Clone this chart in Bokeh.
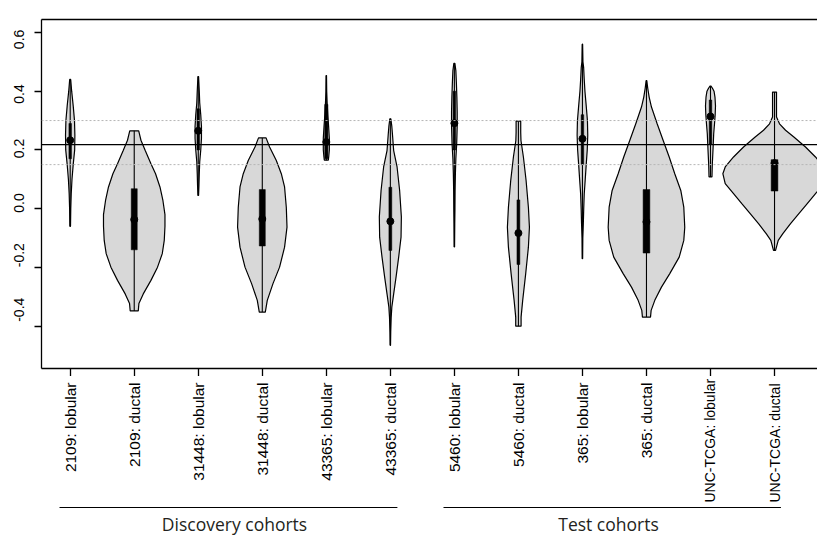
import math
from bokeh.plotting import figure
from bokeh.models import Range1d, FixedTicker, LinearAxis, Span
from bokeh.layouts import column, row
from bokeh.embed import file_html
from bokeh.resources import INLINE
from bokeh.core.properties import value

# ---------------- data ----------------
categories = ["2109: lobular", "2109: ductal", "31448: lobular", "31448: ductal",
              "43365: lobular", "43365: ductal", "5460: lobular", "5460: ductal",
              "365: lobular", "365: ductal", "UNC-TCGA: lobular", "UNC-TCGA: ductal"]
groups = ["Discovery cohorts", "Test cohorts"]

# violin outlines: y levels (top -> bottom) and half-widths (x-axis units)
v01_y = [0.44, 0.40, 0.35, 0.30, 0.25, 0.20, 0.15, 0.10, 0.05, 0.00, -0.06]
v01_w = [0.008, 0.023, 0.047, 0.067, 0.073, 0.070, 0.047, 0.028, 0.016, 0.009, 0.005]
v02_y = [0.265, 0.233, 0.198, 0.153, 0.119, 0.074, 0.028, -0.02, -0.06, -0.108, -0.153, -0.199, -0.244, -0.29, -0.323, -0.348]
v02_w = [0.070, 0.105, 0.172, 0.261, 0.333, 0.402, 0.448, 0.480, 0.480, 0.469, 0.438, 0.364, 0.261, 0.141, 0.073, 0.063]
v03_y = [0.45, 0.40, 0.36, 0.32, 0.28, 0.24, 0.20, 0.16, 0.12, 0.08, 0.045]
v03_w = [0.005, 0.016, 0.023, 0.039, 0.050, 0.050, 0.039, 0.023, 0.016, 0.011, 0.005]
v04_y = [0.241, 0.21, 0.164, 0.119, 0.074, 0.005, -0.063, -0.131, -0.199, -0.255, -0.312, -0.352]
v04_w = [0.059, 0.114, 0.219, 0.297, 0.348, 0.375, 0.386, 0.348, 0.270, 0.167, 0.078, 0.047]
v05_y = [0.453, 0.40, 0.36, 0.32, 0.28, 0.24, 0.20, 0.18, 0.165]
v05_w = [0.003, 0.006, 0.013, 0.023, 0.036, 0.047, 0.047, 0.039, 0.031]
v06_y = [0.306, 0.28, 0.25, 0.198, 0.142, 0.062, -0.028, -0.097, -0.165, -0.233, -0.29, -0.335, -0.37, -0.42, -0.465]
v06_w = [0.008, 0.023, 0.034, 0.052, 0.105, 0.145, 0.172, 0.167, 0.130, 0.089, 0.052, 0.023, 0.013, 0.006, 0.003]
v07_y = [0.495, 0.47, 0.43, 0.38, 0.33, 0.28, 0.22, 0.17, 0.12, 0.06, 0.00, -0.05, -0.13]
v07_w = [0.008, 0.023, 0.031, 0.039, 0.044, 0.044, 0.036, 0.023, 0.016, 0.011, 0.009, 0.006, 0.003]
v08_y = [0.298, 0.26, 0.232, 0.176, 0.096, 0.005, -0.063, -0.131, -0.221, -0.312, -0.369, -0.40]
v08_w = [0.036, 0.036, 0.040, 0.078, 0.120, 0.156, 0.172, 0.156, 0.114, 0.067, 0.042, 0.042]
v09_y = [0.56, 0.50, 0.48, 0.44, 0.40, 0.35, 0.30, 0.25, 0.20, 0.15, 0.10, 0.05, 0.00, -0.05, -0.10, -0.17]
v09_w = [0.003, 0.008, 0.019, 0.028, 0.039, 0.059, 0.078, 0.083, 0.075, 0.059, 0.044, 0.028, 0.020, 0.014, 0.006, 0.003]
v10_y = [0.436, 0.41, 0.38, 0.346, 0.289, 0.232, 0.176, 0.119, 0.062, 0.005, -0.063, -0.108, -0.165, -0.221, -0.267, -0.312, -0.346, -0.369]
v10_w = [0.005, 0.020, 0.042, 0.078, 0.167, 0.261, 0.355, 0.442, 0.536, 0.583, 0.598, 0.583, 0.511, 0.364, 0.234, 0.130, 0.073, 0.063]
v11_y = [0.417, 0.41, 0.40, 0.38, 0.35, 0.32, 0.29, 0.255, 0.20, 0.15, 0.108]
v11_w = [0.008, 0.031, 0.055, 0.070, 0.078, 0.073, 0.063, 0.050, 0.039, 0.028, 0.023]
v12_y = [0.397, 0.312, 0.289, 0.267, 0.244, 0.21, 0.176, 0.142, 0.119, 0.085, 0.051, 0.017, -0.017, -0.051, -0.085, -0.108, -0.142]
v12_w = [0.031, 0.031, 0.078, 0.172, 0.302, 0.484, 0.640, 0.770, 0.807, 0.770, 0.640, 0.511, 0.380, 0.250, 0.130, 0.058, 0.016]

medians = [0.233, -0.037, 0.265, -0.035, 0.227, -0.043, 0.291, -0.083, 0.238, -0.045, 0.314, 0.155]
q1 = [0.17, -0.14, 0.20, -0.127, 0.17, -0.142, 0.20, -0.19, 0.15, -0.151, 0.22, 0.06]
q3 = [0.29, 0.068, 0.34, 0.065, 0.355, 0.073, 0.40, 0.03, 0.32, 0.065, 0.37, 0.167]

y_ticks = [-0.4, -0.2, 0.0, 0.2, 0.4, 0.6]
y_tick_labels = ["-0.4", "-0.2", "0.0", "0.2", "0.4", "0.6"]
ref_line = 0.218
ref_band = [0.15, 0.30]

# ---------------- styles / layout ----------------
box_w = [0.04, 0.094, 0.04, 0.094, 0.05, 0.045, 0.04, 0.045, 0.04, 0.105, 0.04, 0.105]
group_x0 = [0.833, 6.83]
group_x1 = [6.11, 12.1]
group_text_x = [3.566, 9.407]
FONT = "Liberation Sans"

profiles_y = [v01_y, v02_y, v03_y, v04_y, v05_y, v06_y, v07_y, v08_y, v09_y, v10_y, v11_y, v12_y]
profiles_w = [v01_w, v02_w, v03_w, v04_w, v05_w, v06_w, v07_w, v08_w, v09_w, v10_w, v11_w, v12_w]
centers = list(range(1, len(categories) + 1))

xs, ys, lo, hi = [], [], [], []
for c, py, pw in zip(centers, profiles_y, profiles_w):
    xs.append([c - w for w in pw] + [c + w for w in reversed(pw)])
    ys.append(list(py) + list(reversed(py)))
    lo.append(min(py))
    hi.append(max(py))

X0 = 0.5518
X1 = X0 + 776 / 64.03
Y0, Y1 = -0.544, 0.644
TOP, FRAME_H, BOTTOM = 19, 349, 8
yscale = FRAME_H / (Y1 - Y0)  # pixels per unit

common = dict(output_backend="svg", toolbar_location=None, x_axis_type=None, y_axis_type=None,
              outline_line_color=None, background_fill_color="white", border_fill_color="white")

p = figure(width=784, height=TOP + FRAME_H + BOTTOM, x_range=Range1d(X0, X1), y_range=Range1d(Y0, Y1),
           min_border_left=8, min_border_right=0, min_border_top=TOP, min_border_bottom=BOTTOM, **common)


def make_axis(ticks, tick_out):
    return LinearAxis(ticker=FixedTicker(ticks=ticks, minor_ticks=[]),
                      major_tick_out=tick_out, major_tick_in=0, minor_tick_out=0, minor_tick_in=0,
                      major_label_text_font_size="0px", major_label_standoff=0,
                      major_label_overrides={t: "" for t in ticks},
                      axis_line_color="black", axis_line_width=1.3,
                      major_tick_line_color="black", major_tick_line_width=1.3)


p.add_layout(make_axis(centers, 8), "below")
p.add_layout(make_axis(y_ticks, 7), "left")
p.add_layout(make_axis([], 0), "above")

p.patches(xs, ys, fill_color="#d8d8d8", line_color="black", line_width=1.2)
p.segment(x0=centers, y0=lo, x1=centers, y1=hi, line_color="black", line_width=1.1)
p.vbar(x=centers, bottom=q1, top=q3, width=box_w, fill_color="black", line_color="black", line_width=0.5)
p.scatter(x=centers, y=medians, size=7, marker="circle", fill_color="black", line_color="black")

p.add_layout(Span(location=ref_line, dimension="width", line_color="black", line_width=1.3))
for b in ref_band:
    p.add_layout(Span(location=b, dimension="width", line_color="#b5b5b5", line_width=1, line_dash="2 2"))

# left strip with y tick labels: same value scale, frame stretched over the whole strip height
pl = figure(width=33, height=TOP + FRAME_H + BOTTOM, x_range=Range1d(0, 33),
            y_range=Range1d(Y0 - BOTTOM / yscale, Y1 + TOP / yscale),
            min_border_left=0, min_border_right=0, min_border_top=0, min_border_bottom=0, **common)
pl.text(x=[18] * len(y_ticks), y=y_ticks, text=y_tick_labels, angle=math.pi / 2,
        text_align="left", text_baseline="middle", text_font=value(FONT),
        text_font_size="14px", text_color="black")

# lower panel: category labels and cohort groups (y in pixel rows)
p2 = figure(width=817, height=160, x_range=p.x_range, y_range=Range1d(536, 376),
            min_border_left=41, min_border_right=0, min_border_top=0, min_border_bottom=0, **common)

p2.text(x=centers[:10], y=[382] * 10, text=categories[:10], angle=math.pi / 2,
        text_align="right", text_baseline="middle", text_font=value(FONT),
        text_font_size="15.5px", text_color="black")
p2.text(x=centers[10:], y=[502] * 2, text=categories[10:], angle=math.pi / 2,
        text_align="left", text_baseline="middle", text_font=value(FONT),
        text_font_size="14px", text_color="black")
p2.segment(x0=group_x0, y0=[507, 507], x1=group_x1, y1=[507, 507], line_color="black", line_width=1.2)
p2.text(x=group_text_x, y=[535, 535], text=groups, text_align="center", text_baseline="bottom",
        text_font=value("Open Sans"), text_font_size="17.5px", text_color="#231f20")

layout = column(row(pl, p, spacing=0), p2, spacing=0)
open("out.html", "w").write(file_html(layout, INLINE))
